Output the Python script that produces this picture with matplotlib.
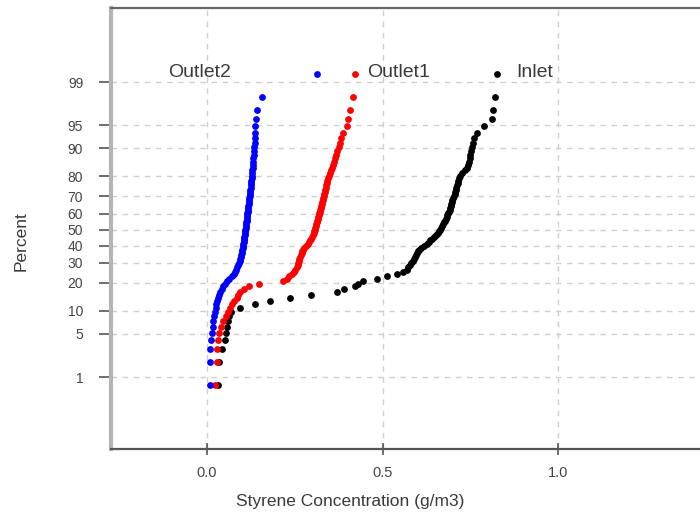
import matplotlib
matplotlib.use("Agg")
import matplotlib.pyplot as plt
import numpy as np
from statistics import NormalDist

# sorted styrene concentrations (g/m3)
inlet = [0.031, 0.034, 0.043, 0.051, 0.054, 0.057, 0.060, 0.063, 0.068, 0.094,
         0.137, 0.179, 0.236, 0.296, 0.370, 0.390, 0.422, 0.430, 0.444, 0.484,
         0.513, 0.541, 0.558, 0.570, 0.573, 0.578, 0.581, 0.587, 0.590, 0.593,
         0.595, 0.598, 0.601, 0.604, 0.610, 0.618, 0.627, 0.632, 0.635, 0.641,
         0.647, 0.652, 0.658, 0.661, 0.664, 0.667, 0.670, 0.672, 0.675, 0.678,
         0.681, 0.684, 0.684, 0.687, 0.689, 0.692, 0.692, 0.695, 0.695, 0.698,
         0.698, 0.701, 0.704, 0.707, 0.707, 0.709, 0.709, 0.712, 0.715, 0.715,
         0.718, 0.721, 0.726, 0.735, 0.741, 0.744, 0.746, 0.749, 0.749, 0.752,
         0.755, 0.758, 0.761, 0.769, 0.789, 0.812, 0.815, 0.821, 0.826]

outlet1 = [0.023, 0.028, 0.028, 0.031, 0.034, 0.040, 0.046, 0.054, 0.060, 0.066,
           0.071, 0.077, 0.085, 0.088, 0.094, 0.105, 0.120, 0.148, 0.217, 0.228,
           0.234, 0.242, 0.248, 0.251, 0.256, 0.259, 0.259, 0.262, 0.262, 0.265,
           0.268, 0.271, 0.271, 0.274, 0.276, 0.282, 0.288, 0.291, 0.293, 0.296,
           0.299, 0.302, 0.305, 0.305, 0.308, 0.308, 0.311, 0.311, 0.313, 0.313,
           0.316, 0.316, 0.319, 0.319, 0.322, 0.322, 0.325, 0.325, 0.328, 0.328,
           0.330, 0.330, 0.333, 0.333, 0.336, 0.336, 0.339, 0.339, 0.342, 0.342,
           0.345, 0.348, 0.350, 0.353, 0.356, 0.359, 0.362, 0.365, 0.368, 0.370,
           0.376, 0.379, 0.382, 0.387, 0.399, 0.402, 0.407, 0.416, 0.422]

outlet2 = [0.009, 0.009, 0.009, 0.011, 0.014, 0.017, 0.017, 0.020, 0.023, 0.026,
           0.026, 0.028, 0.031, 0.034, 0.037, 0.043, 0.046, 0.051, 0.057, 0.063,
           0.071, 0.077, 0.080, 0.083, 0.085, 0.088, 0.091, 0.094, 0.094, 0.097,
           0.097, 0.100, 0.100, 0.100, 0.103, 0.103, 0.103, 0.105, 0.105, 0.105,
           0.105, 0.108, 0.108, 0.108, 0.108, 0.111, 0.111, 0.111, 0.111, 0.114,
           0.114, 0.114, 0.114, 0.114, 0.117, 0.117, 0.117, 0.117, 0.120, 0.120,
           0.120, 0.120, 0.123, 0.123, 0.123, 0.123, 0.125, 0.125, 0.125, 0.125,
           0.128, 0.128, 0.128, 0.128, 0.131, 0.131, 0.131, 0.131, 0.134, 0.134,
           0.134, 0.137, 0.137, 0.137, 0.137, 0.140, 0.142, 0.157, 0.313]

series_names = ["Inlet", "Outlet1", "Outlet2"]
series_colors = ["black", "red", "blue"]
pct_ticks = [1, 5, 10, 20, 30, 40, 50, 60, 70, 80, 90, 95, 99]
x_ticks = [0.0, 0.5, 1.0]

nd = NormalDist()

def plot_pos(n):
    # Blom plotting positions -> normal scores
    return [nd.inv_cdf((i - 0.375) / (n + 0.25)) for i in range(1, n + 1)]

plt.rcParams['font.family'] = ['Liberation Sans', 'DejaVu Sans']

fig = plt.figure(figsize=(7.0, 5.17), dpi=100)
ax = fig.add_axes([0.1586, 0.1315, 0.8414, 0.853])

txt_col = '#3a3a3a'
for name, vals, col in zip(series_names, [inlet, outlet1, outlet2], series_colors):
    z = plot_pos(len(vals))
    ax.scatter(vals, z, s=24, c=col, linewidths=0, zorder=3)

# series labels next to the top points
ax.text(0.880, nd.inv_cdf(0.9935), "Inlet", fontsize=14, color=txt_col, va='center', ha='left')
ax.text(0.456, nd.inv_cdf(0.9935), "Outlet1", fontsize=14, color=txt_col, va='center', ha='left')
ax.text(-0.111, nd.inv_cdf(0.9935), "Outlet2", fontsize=14, color=txt_col, va='center', ha='left')

ax.set_xlim(-0.2735, 1.4046)
ax.set_ylim(-3.46, 3.495)

ax.set_yticks([nd.inv_cdf(p / 100) for p in pct_ticks])
ax.set_yticklabels([str(p) for p in pct_ticks])
ax.set_xticks(x_ticks)
ax.set_xticklabels(["%.1f" % v for v in x_ticks])

ax.grid(True, color='#cfcfcf', linestyle=(0, (4, 4)), linewidth=1.0)
ax.set_axisbelow(True)

ax.tick_params(axis='y', length=9, width=1.2, color='#555555', pad=11,
               labelsize=10, labelcolor='#444444')
ax.tick_params(axis='x', length=8, width=1.2, color='#555555', pad=8,
               labelsize=10.5, labelcolor='#444444', direction='inout')

ax.spines['right'].set_visible(False)
ax.spines['left'].set_color('#b5b5b5')
ax.spines['left'].set_linewidth(3)
ax.spines['top'].set_color('#666666')
ax.spines['top'].set_linewidth(1.6)
ax.spines['bottom'].set_color('#555555')
ax.spines['bottom'].set_linewidth(1.6)

ax.set_xlabel("Styrene Concentration (g/m3)", fontsize=12.5, color=txt_col)
ax.xaxis.set_label_coords(0.406, -0.102)
ax.set_ylabel("Percent", fontsize=12.5, color=txt_col)
ax.yaxis.set_label_coords(-0.14, 0.472)

fig.savefig("out.png", dpi=100)
